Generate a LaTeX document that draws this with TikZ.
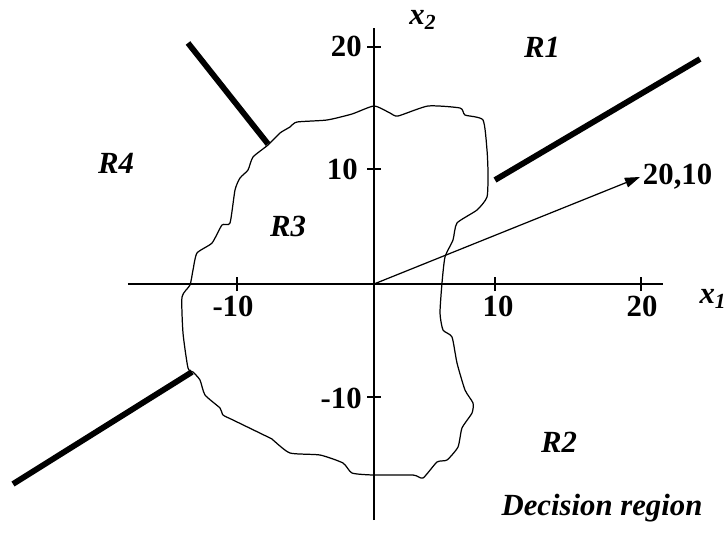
\documentclass[tikz,border=0pt]{standalone}
\usepackage{fontspec}
\setmainfont{Liberation Serif}
\usetikzlibrary{arrows.meta,positioning}
\tikzset{
  >={Triangle[length=3mm,width=2mm]},
  axis/.style={draw=black,line width=0.9pt},
  border/.style={draw=black,line width=3.3pt},
  outline/.style={draw=black,line width=0.7pt},
  ticklbl/.style={font=\fontsize{17.5}{20}\selectfont\bfseries,inner sep=0pt},
  region/.style={font=\fontsize{17.5}{20}\selectfont\bfseries\itshape,inner sep=0pt},
}
\begin{document}
\begin{tikzpicture}
  \useasboundingbox (-7.48,-5.02) rectangle (7.08,5.68);
  % axes
  \coordinate (O) at (0,0);
  \coordinate (xl) at (-4.92,0);
  \coordinate (xr) at (5.78,0);
  \coordinate (yb) at (0,-4.72);
  \coordinate (yt) at (0,5.12);
  \draw[axis] (xl) -- (xr);
  \draw[axis] (yb) -- (yt);
  \foreach \x in {-2.74,2.42,5.34} \draw[axis] (\x,-0.14) -- (\x,0.14);
  \foreach \y in {-2.26,2.30,4.74} \draw[axis] (-0.14,\y) -- (0.14,\y);
  \node[ticklbl] (xm10) at (-2.82,-0.44) {-10};
  \node[ticklbl] (x10) at (2.48,-0.44) {10};
  \node[ticklbl] (x20) at (5.36,-0.44) {20};
  \node[ticklbl,anchor=east] (y20) at (-0.24,4.76) {20};
  \node[ticklbl,anchor=east] (y10) at (-0.32,2.30) {10};
  \node[ticklbl,anchor=east] (ym10) at (-0.24,-2.28) {-10};
  \node[region] (xone) at (6.78,-0.30) {x\textsubscript{1}};
  \node[region] (xtwo) at (0.98,5.28) {x\textsubscript{2}};
  % decision boundary
  \draw[outline] plot[smooth cycle,tension=0.35] coordinates {
    (0,3.56) (0.32,3.42) (0.48,3.36) (1.08,3.56) (1.72,3.52) (1.82,3.38)
    (2.18,3.28) (2.26,2.68) (2.28,2.22) (2.26,1.74) (2.06,1.48) (1.66,1.22)
    (1.58,0.88) (1.42,0.54) (1.36,0.02) (1.32,-0.58) (1.38,-0.92) (1.56,-1.06)
    (1.66,-1.58) (1.82,-2.12) (1.98,-2.38) (1.96,-2.58) (1.76,-2.88) (1.68,-3.26)
    (1.46,-3.52) (1.26,-3.56) (0.98,-3.88) (0.78,-3.82) (-0.02,-3.82) (-0.44,-3.78)
    (-0.62,-3.58) (-1.08,-3.42) (-1.68,-3.38) (-2.02,-3.12) (-2.08,-3.08) (-2.82,-2.72)
    (-3.02,-2.62) (-3.08,-2.48) (-3.38,-2.22) (-3.48,-1.92) (-3.62,-1.76) (-3.72,-1.68)
    (-3.82,-0.98) (-3.84,-0.26) (-3.68,-0.02) (-3.62,0.28) (-3.54,0.62) (-3.24,0.82)
    (-3.04,1.18) (-2.88,1.22) (-2.78,1.88) (-2.68,2.12) (-2.52,2.28) (-2.42,2.54)
    (-2.12,2.78) (-1.88,3.02) (-1.68,3.14) (-1.54,3.24) (-0.94,3.28) (-0.44,3.40)};
  % region borders
  \coordinate (b4a) at (-3.72,4.82);
  \coordinate (b4b) at (-2.12,2.80);
  \coordinate (b1a) at (2.42,2.08);
  \coordinate (b1b) at (6.52,4.50);
  \coordinate (b2a) at (-7.22,-4.00);
  \coordinate (b2b) at (-3.64,-1.76);
  \draw[border] (b4a) -- (b4b);
  \draw[border] (b1a) -- (b1b);
  \draw[border] (b2a) -- (b2b);
  % sample vector
  \node[ticklbl,anchor=west,inner sep=1.5pt] (pt) at (5.32,2.14) {20,10};
  \draw[->,line width=0.7pt] (O) -- (pt.west);
  % labels
  \node[region] (r1) at (3.36,4.74) {R1};
  \node[region] (r4) at (-5.16,2.42) {R4};
  \node[region] (r3) at (-1.72,1.16) {R3};
  \node[region] (r2) at (3.70,-3.16) {R2};
  \node[region] (dr) at (4.56,-4.48) {Decision region};
\end{tikzpicture}
\end{document}
